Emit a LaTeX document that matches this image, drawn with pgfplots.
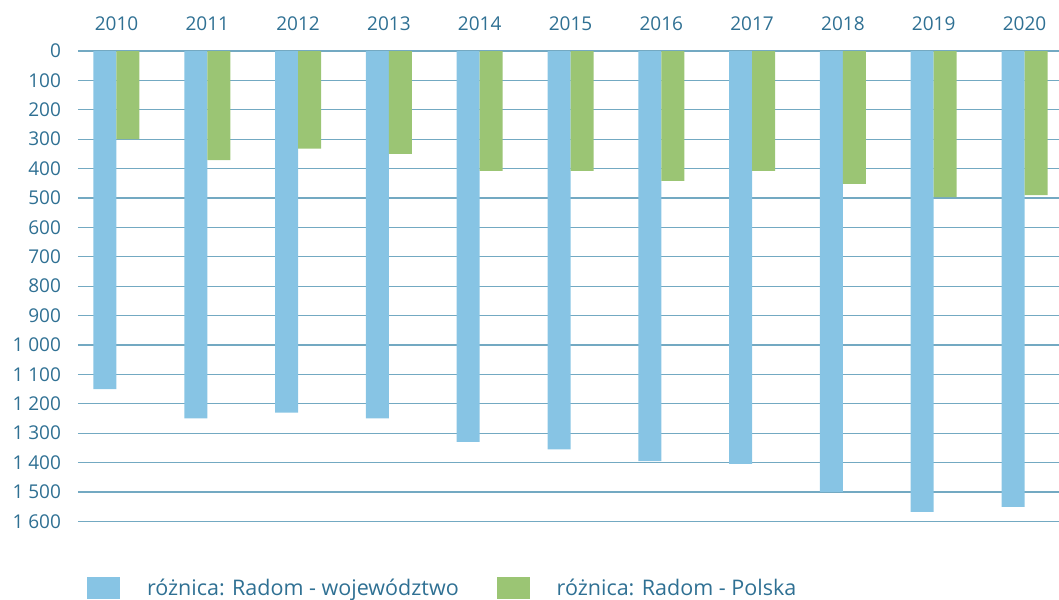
\documentclass[border=0pt]{standalone}
\usepackage{fontspec}
\setmainfont{Open Sans}
\usepackage{pgfplots}
\pgfplotsset{compat=1.18}
\definecolor{barblue}{HTML}{87C4E4}
\definecolor{bargreen}{HTML}{9BC574}
\definecolor{txt}{HTML}{2F7093}
\definecolor{gridc}{HTML}{73A9C2}
\begin{document}
\begin{tikzpicture}
\begin{axis}[
  name=ax,
  scale only axis,
  width=490.5pt, height=235.15pt,
  xmin=-0.424, xmax=10.38,
  ymin=0, ymax=1600,
  y dir=reverse,
  ybar, bar width=11.5pt,
  xtick={0,...,10},
  xticklabels={2010,2011,2012,2013,2014,2015,2016,2017,2018,2019,2020},
  xticklabel pos=upper,
  ytick={0,100,...,1600},
  major tick length=0pt,
  axis line style={draw=none},
  ymajorgrids,
  grid style={gridc, line width=0.6pt},
  /pgf/number format/assume math mode=true,
  /pgf/number format/1000 sep={\ },
  tick label style={font=\fontsize{9.5}{11}\selectfont, text=txt},
  yticklabel style={xshift=-5pt},
  xticklabel style={yshift=6.5pt},
  legend style={draw=none, fill=none, inner sep=0pt, outer sep=0pt,
    font=\fontsize{10.75}{12}\selectfont, text=txt,
    at={(0.0092,-0.1426)}, anchor=west,
    /tikz/every odd column/.append style={column sep=11.5pt},
    /tikz/every even column/.append style={column sep=17pt}},
  legend columns=2,
  legend image code/.code={\fill[#1] (0pt,-5.5pt) rectangle (16.5pt,5.5pt);},
]
\addplot[fill=barblue, draw=none, bar shift=-5.75pt] coordinates {
(0,1150) (1,1250) (2,1230) (3,1250) (4,1330) (5,1355) (6,1395) (7,1405) (8,1500) (9,1568) (10,1551)};
\addplot[fill=bargreen, draw=none, bar shift=5.75pt] coordinates {
(0,300) (1,371) (2,332) (3,350) (4,408) (5,408) (6,442) (7,408) (8,452) (9,497) (10,490)};
\legend{różnica: Radom - województwo, różnica: Radom - Polska}
\end{axis}
\pgfresetboundingbox
\path[use as bounding box] ([xshift=-39pt,yshift=-39pt]ax.south west) rectangle ([yshift=25.5pt]ax.north east);
\end{tikzpicture}
\end{document}
